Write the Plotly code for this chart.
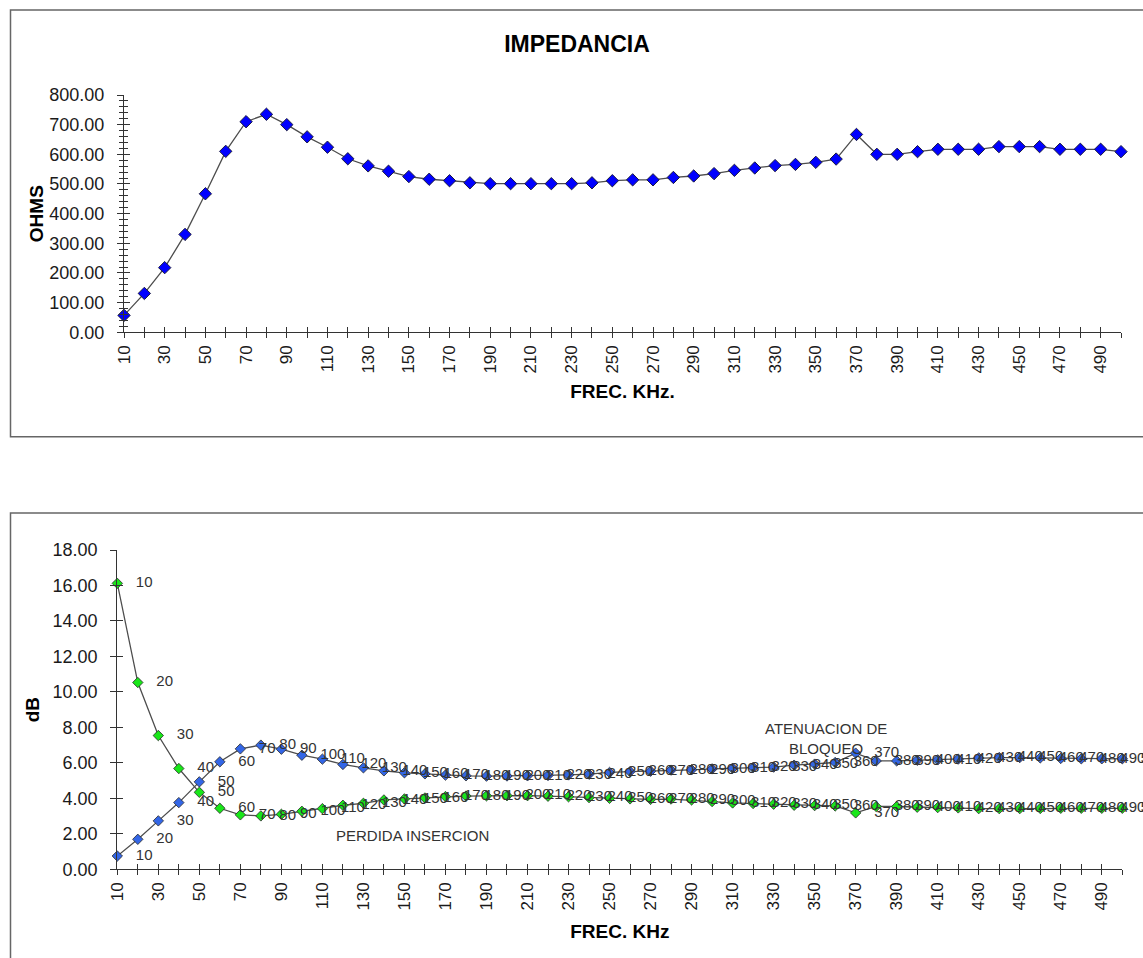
import plotly.graph_objects as go

# ---------------- data ----------------
freq = [10, 20, 30, 40, 50, 60, 70, 80, 90, 100,
        110, 120, 130, 140, 150, 160, 170, 180, 190, 200,
        210, 220, 230, 240, 250, 260, 270, 280, 290, 300,
        310, 320, 330, 340, 350, 360, 370, 380, 390, 400,
        410, 420, 430, 440, 450, 460, 470, 480, 490, 500]

impedancia = [57, 131, 218, 330, 467, 610, 710, 735, 700, 659,
              624, 585, 561, 543, 525, 516, 511, 504, 501, 501,
              501, 501, 501, 504, 511, 514, 514, 522, 527, 535,
              546, 554, 562, 566, 573, 584, 667, 600, 600, 609,
              617, 617, 617, 626, 626, 626, 617, 617, 617, 609]

perdida_insercion = [16.12, 10.53, 7.54, 5.68, 4.34, 3.44, 3.07, 3.01, 3.10, 3.27,
                     3.42, 3.61, 3.72, 3.91, 3.97, 4.02, 4.10, 4.13, 4.14, 4.15,
                     4.15, 4.12, 4.09, 4.04, 4.00, 3.97, 3.94, 3.96, 3.91, 3.82,
                     3.74, 3.71, 3.67, 3.61, 3.59, 3.57, 3.18, 3.54, 3.54, 3.50,
                     3.48, 3.46, 3.42, 3.42, 3.42, 3.43, 3.44, 3.44, 3.44, 3.44]

atenuacion_bloqueo = [0.75, 1.69, 2.73, 3.76, 4.93, 6.06, 6.79, 7.00, 6.77, 6.43,
                      6.21, 5.91, 5.72, 5.55, 5.44, 5.38, 5.31, 5.27, 5.25, 5.26,
                      5.27, 5.29, 5.32, 5.36, 5.46, 5.51, 5.53, 5.59, 5.61, 5.66,
                      5.70, 5.74, 5.76, 5.87, 5.93, 6.02, 6.55, 6.11, 6.11, 6.15,
                      6.17, 6.21, 6.28, 6.30, 6.30, 6.28, 6.25, 6.23, 6.23, 6.23]

x_ticktext = [str(f) if (f // 10) % 2 == 1 else "" for f in freq]
point_labels = [str(f) for f in freq]

# ---------------- layout helpers ----------------
W, H = 1143, 958
FONT = "Arial, 'Liberation Sans', sans-serif"
AX = "#333333"
LINE = "#4d4d4d"


def px(x):
    return x / W


def py(y):
    return 1 - y / H


fig = go.Figure()

# top: impedance
fig.add_trace(go.Scatter(
    x=freq, y=impedancia, mode="lines+markers", xaxis="x", yaxis="y",
    line=dict(color=LINE, width=1.3),
    marker=dict(symbol="diamond", size=9.5, color="#0000ff",
                line=dict(color="#1a1a40", width=1)),
    cliponaxis=False, showlegend=False, name="IMPEDANCIA"))

# bottom: insertion loss (green) and blocking attenuation (blue)
fig.add_trace(go.Scatter(
    x=freq, y=perdida_insercion, mode="lines+markers+text", xaxis="x2", yaxis="y2",
    text=point_labels, texttemplate="\u00a0\u00a0\u00a0%{text}",
    textposition="middle right",
    textfont=dict(family=FONT, size=15, color="#333333"),
    line=dict(color=LINE, width=1.3),
    marker=dict(symbol="diamond", size=8, color="#19e619",
                line=dict(color="#2a2a2a", width=0.8)),
    cliponaxis=False, showlegend=False, name="PERDIDA INSERCION"))

fig.add_trace(go.Scatter(
    x=freq, y=atenuacion_bloqueo, mode="lines+markers+text", xaxis="x2", yaxis="y2",
    text=point_labels, texttemplate="\u00a0\u00a0\u00a0%{text}",
    textposition="middle right",
    textfont=dict(family=FONT, size=15, color="#333333"),
    line=dict(color=LINE, width=1.3),
    marker=dict(symbol="diamond", size=8, color="#3366e6",
                line=dict(color="#2a2a2a", width=0.8)),
    cliponaxis=False, showlegend=False, name="ATENUACION DE BLOQUEO"))

# empty traces so that the overlay (inside-tick) axes exist
fig.add_trace(go.Scatter(x=[], y=[], xaxis="x3", yaxis="y3", showlegend=False, hoverinfo="skip"))
fig.add_trace(go.Scatter(x=[], y=[], xaxis="x4", yaxis="y4", showlegend=False, hoverinfo="skip"))

tickfont = dict(family=FONT, size=18, color="#1a1a1a")
xtickfont = dict(family=FONT, size=17, color="#1a1a1a")
titlefont = dict(family=FONT, size=19, color="#000000", weight="bold")

common_x = dict(range=[10, 500], tickmode="array", tickvals=freq, showgrid=False,
                zeroline=False, tickcolor=AX, tickwidth=1.2, automargin=False)
top_y_ticks = dict(range=[0, 800], dtick=100, tick0=0, showgrid=False, zeroline=False,
                   tickcolor=AX, tickwidth=1.2, automargin=False)
bot_y_ticks = dict(range=[0, 18], dtick=2, tick0=0, showgrid=False, zeroline=False,
                   tickcolor=AX, tickwidth=1.2, automargin=False)

fig.update_layout(
    width=W, height=H,
    margin=dict(l=0, r=0, t=0, b=0, pad=0, autoexpand=False),
    paper_bgcolor="white", plot_bgcolor="white",
    font=dict(family=FONT, color="#1a1a1a"),
    title=dict(text="<b>IMPEDANCIA</b>", x=px(577), y=py(44), xanchor="center",
               yanchor="middle", font=dict(family=FONT, size=23, color="#000000")),
    # top panel
    xaxis=dict(domain=[px(124), px(1121)], anchor="y", ticktext=x_ticktext,
               ticks="outside", ticklen=5, tickangle=-90, tickfont=xtickfont,
               showline=True, linecolor=AX, linewidth=1.3,
               title=dict(text="FREC. KHz.", font=titlefont, standoff=12),
               **common_x),
    yaxis=dict(domain=[py(332.3), py(95)], anchor="x", tickformat=".2f",
               ticks="outside", ticklen=6, tickfont=tickfont, ticklabelstandoff=9,
               minor=dict(dtick=20, tick0=0, ticks="outside", ticklen=4,
                          tickcolor=AX, tickwidth=1),
               showline=True, linecolor=AX, linewidth=1.3,
               title=dict(text="OHMS", font=titlefont, standoff=0),
               **top_y_ticks),
    xaxis3=dict(overlaying="x", anchor="y3", ticks="inside", ticklen=5,
                showticklabels=False, showline=False, **common_x),
    yaxis3=dict(overlaying="y", anchor="x3", ticks="inside", ticklen=6,
                showticklabels=False, showline=False,
                minor=dict(dtick=20, tick0=0, ticks="inside", ticklen=4,
                           tickcolor=AX, tickwidth=1),
                **top_y_ticks),
    # bottom panel
    xaxis2=dict(domain=[px(117.3), px(1122.3)], anchor="y2", ticktext=x_ticktext,
                ticks="outside", ticklen=5, tickangle=-90, tickfont=xtickfont,
                showline=True, linecolor=AX, linewidth=1.3,
                title=dict(text="FREC. KHz", font=titlefont, standoff=15),
                **common_x),
    yaxis2=dict(domain=[py(869.3), py(550)], anchor="x2", tickformat=".2f",
                ticks="outside", ticklen=6, tickfont=tickfont, ticklabelstandoff=9,
                showline=True, linecolor=AX, linewidth=1.3,
                title=dict(text="dB", font=titlefont, standoff=7),
                **bot_y_ticks),
    xaxis4=dict(overlaying="x2", anchor="y4", ticks="inside", ticklen=5,
                showticklabels=False, showline=False, **common_x),
    yaxis4=dict(overlaying="y2", anchor="x4", ticks="inside", ticklen=6,
                showticklabels=False, showline=False, **bot_y_ticks),
    annotations=[
        dict(text="ATENUACION DE<br>BLOQUEO", xref="paper", yref="paper",
             x=px(826), y=py(738), xanchor="center", yanchor="middle",
             showarrow=False, align="center",
             font=dict(family=FONT, size=15, color="#333333")),
        dict(text="PERDIDA INSERCION", xref="paper", yref="paper",
             x=px(412), y=py(835), xanchor="center", yanchor="middle",
             showarrow=False, font=dict(family=FONT, size=15, color="#333333")),
    ],
    shapes=[
        dict(type="rect", xref="paper", yref="paper", x0=px(10.5), x1=1.05,
             y0=py(436.7), y1=py(10), line=dict(color="#666666", width=1.5)),
        dict(type="rect", xref="paper", yref="paper", x0=px(10.5), x1=1.05,
             y0=-0.05, y1=py(513), line=dict(color="#666666", width=1.5)),
    ],
)

fig.write_html("out.html", config={"displayModeBar": False},
               post_script="document.body.style.margin='0';document.body.style.overflow='hidden';")
